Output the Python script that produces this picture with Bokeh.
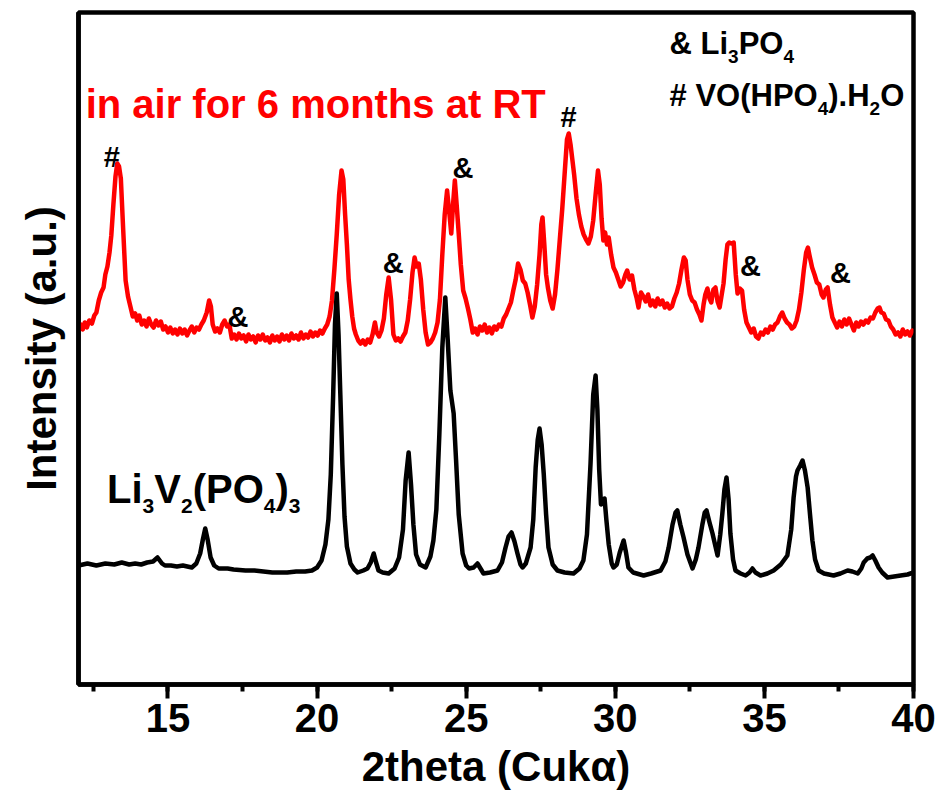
from bokeh.plotting import figure
from bokeh.models import Range1d, SingleIntervalTicker, FixedTicker, ColumnDataSource
from bokeh.core.properties import value
from bokeh.embed import file_html
from bokeh.resources import INLINE

# ---------------- data ----------------
# Li3V2(PO4)3 pattern (black)
theta_lvp = [12.0, 12.3, 12.6, 12.9, 13.2, 13.45, 13.7, 13.9, 14.1, 14.3, 14.5, 14.65, 14.8, 14.9,
             15.1, 15.3, 15.5, 15.8, 15.95, 16.08, 16.17, 16.25, 16.33, 16.43, 16.55, 16.7, 17.0,
             17.2, 17.6, 17.9, 18.2, 18.5, 18.71, 19.0, 19.3, 19.6, 19.83, 20.0, 20.15, 20.28, 20.38,
             20.46, 20.54, 20.6, 20.66, 20.72, 20.78, 20.85, 20.92, 21.0, 21.12, 21.25, 21.36, 21.55,
             21.69, 21.8, 21.9, 21.98, 22.06, 22.2, 22.4, 22.6, 22.75, 22.88, 22.97, 23.07, 23.15,
             23.23, 23.32, 23.45, 23.64, 23.8, 23.9, 24.0, 24.1, 24.2, 24.3, 24.38, 24.47, 24.58,
             24.66, 24.75, 24.88, 25.0, 25.1, 25.25, 25.38, 25.5, 25.58, 25.8, 26.05, 26.2, 26.32,
             26.42, 26.52, 26.62, 26.72, 26.82, 26.89, 27.0, 27.16, 27.25, 27.33, 27.4, 27.46, 27.53,
             27.6, 27.68, 27.76, 27.9, 28.06, 28.3, 28.6, 28.8, 28.93, 29.05, 29.17, 29.26, 29.34,
             29.4, 29.46, 29.52, 29.6, 29.64, 29.7, 29.78, 29.88, 29.94, 30.05, 30.15, 30.28, 30.36,
             30.44, 30.6, 30.95, 31.2, 31.52, 31.68, 31.79, 31.92, 32.02, 32.08, 32.18, 32.29, 32.42,
             32.59, 32.7, 32.79, 32.92, 33.0, 33.06, 33.16, 33.26, 33.36, 33.43, 33.52, 33.59, 33.66,
             33.73, 33.8, 33.86, 33.95, 34.03, 34.2, 34.37, 34.5, 34.6, 34.7, 34.87, 35.1, 35.31,
             35.55, 35.77, 35.9, 35.98, 36.06, 36.11, 36.2, 36.28, 36.36, 36.45, 36.53, 36.61, 36.7,
             36.82, 37.0, 37.32, 37.55, 37.79, 37.95, 38.13, 38.25, 38.33, 38.45, 38.55, 38.63, 38.72,
             38.83, 38.95, 39.13, 39.35, 39.57, 39.8, 40.0]
int_lvp = [119, 121, 119, 121, 120, 122, 120, 121, 120, 122, 123, 127, 121, 119,
           119, 118, 119, 117, 121, 131, 145, 156, 145, 127, 119, 116, 116,
           115, 114, 114, 113, 112, 112, 112, 113, 113, 114, 117, 124, 140, 165,
           210, 290, 360, 391, 350, 290, 220, 168, 138, 121, 115, 112, 114,
           116, 122, 131, 122, 114, 112, 111, 116, 127, 155, 204, 232, 200,
           160, 130, 120, 117, 128, 144, 175, 250, 337, 387, 345, 294, 271,
           225, 170, 131, 119, 116, 117, 121, 115, 111, 112, 114, 122, 137,
           148, 152, 143, 131, 120, 117, 121, 137, 165, 217, 245, 256, 240,
           211, 170, 137, 120, 114, 112, 111, 116, 124, 150, 221, 290, 309,
           275, 215, 180, 184, 186, 165, 140, 121, 117, 120, 132, 144, 132,
           117, 112, 109, 111, 114, 123, 137, 160, 172, 174, 160, 147, 130,
           116, 125, 137, 160, 172, 174, 162, 151, 138, 129, 150, 171, 195,
           207, 185, 151, 125, 114, 111, 109, 112, 116, 112, 109, 111, 114,
           120, 129, 155, 187, 208, 214, 219, 224, 214, 197, 170, 144, 125,
           114, 111, 109, 111, 114, 113, 111, 116, 122, 126, 127, 129, 124,
           117, 112, 107, 108, 109, 110, 112]

# after 6 months in air at RT (red)
theta_air = [12.0, 12.07, 12.14, 12.21, 12.28, 12.36, 12.45, 12.53, 12.6, 12.68, 12.76, 12.84, 12.9,
             12.97, 13.04, 13.1, 13.17, 13.24, 13.3, 13.36, 13.42, 13.5, 13.58, 13.66, 13.74, 13.82,
             13.9, 13.97, 14.04, 14.12, 14.2, 14.28, 14.36, 14.44, 14.52, 14.6, 14.68, 14.76, 14.84,
             14.92, 15.0, 15.08, 15.16, 15.24, 15.32, 15.4, 15.48, 15.56, 15.64, 15.72, 15.8, 15.88,
             15.96, 16.04, 16.12, 16.2, 16.3, 16.38, 16.44, 16.5, 16.58, 16.66, 16.74, 16.82, 16.9,
             16.98, 17.06, 17.14, 17.22, 17.3, 17.38, 17.46, 17.54, 17.62, 17.7, 17.78, 17.86, 17.94,
             18.02, 18.1, 18.18, 18.26, 18.34, 18.42, 18.5, 18.58, 18.66, 18.74, 18.82, 18.9, 18.98,
             19.06, 19.14, 19.22, 19.3, 19.38, 19.46, 19.54, 19.62, 19.7, 19.78, 19.86, 19.94, 20.02,
             20.1, 20.18, 20.26, 20.34, 20.42, 20.5, 20.58, 20.66, 20.74, 20.82, 20.88, 20.94, 21.0,
             21.06, 21.12, 21.18, 21.24, 21.3, 21.38, 21.46, 21.54, 21.62, 21.7, 21.78, 21.86, 21.94,
             22.0, 22.08, 22.16, 22.24, 22.32, 22.4, 22.48, 22.56, 22.64, 22.72, 22.8, 22.88, 22.96,
             23.04, 23.12, 23.2, 23.27, 23.34, 23.41, 23.48, 23.56, 23.64, 23.72, 23.8, 23.88, 23.96,
             24.04, 24.12, 24.2, 24.28, 24.36, 24.44, 24.5, 24.56, 24.62, 24.68, 24.75, 24.82, 24.9,
             24.98, 25.06, 25.14, 25.22, 25.3, 25.38, 25.46, 25.54, 25.62, 25.7, 25.78, 25.86, 25.94,
             26.02, 26.1, 26.18, 26.26, 26.34, 26.42, 26.5, 26.58, 26.66, 26.74, 26.82, 26.9, 26.98,
             27.06, 27.14, 27.22, 27.3, 27.38, 27.46, 27.52, 27.56, 27.62, 27.68, 27.74, 27.82, 27.9,
             27.98, 28.06, 28.14, 28.22, 28.3, 28.38, 28.44, 28.5, 28.56, 28.62, 28.7, 28.78, 28.86,
             28.94, 29.02, 29.1, 29.18, 29.26, 29.34, 29.42, 29.48, 29.54, 29.6, 29.66, 29.72, 29.78,
             29.86, 29.94, 30.02, 30.1, 30.18, 30.26, 30.34, 30.4, 30.48, 30.56, 30.64, 30.72, 30.78,
             30.86, 30.94, 31.02, 31.1, 31.18, 31.26, 31.34, 31.42, 31.5, 31.58, 31.66, 31.74, 31.82,
             31.9, 31.98, 32.06, 32.14, 32.22, 32.3, 32.36, 32.42, 32.5, 32.58, 32.66, 32.74, 32.82,
             32.89, 32.96, 33.02, 33.09, 33.16, 33.22, 33.29, 33.36, 33.43, 33.5, 33.57, 33.63, 33.7,
             33.76, 33.82, 33.9, 33.97, 34.04, 34.1, 34.18, 34.25, 34.32, 34.4, 34.48, 34.56, 34.64,
             34.72, 34.8, 34.88, 34.96, 35.04, 35.12, 35.2, 35.28, 35.36, 35.44, 35.52, 35.6, 35.68,
             35.76, 35.84, 35.92, 36.0, 36.08, 36.16, 36.24, 36.32, 36.4, 36.46, 36.52, 36.6, 36.68,
             36.76, 36.84, 36.92, 36.98, 37.06, 37.12, 37.2, 37.28, 37.36, 37.44, 37.52, 37.6, 37.68,
             37.76, 37.84, 37.92, 38.0, 38.08, 38.16, 38.24, 38.32, 38.4, 38.48, 38.56, 38.64, 38.72,
             38.8, 38.86, 38.92, 39.0, 39.08, 39.16, 39.24, 39.32, 39.4, 39.48, 39.56, 39.64, 39.72,
             39.8, 39.88, 39.96, 40.0]
int_air = [354, 360, 355, 362, 357, 364, 361, 369, 372, 384, 392, 397, 410,
           418, 432, 449, 480, 508, 521, 518, 506, 454, 404, 388, 378, 368,
           371, 364, 369, 360, 364, 358, 366, 360, 357, 364, 359, 363, 355,
           358, 352, 357, 351, 355, 350, 356, 351, 355, 349, 354, 358, 352,
           357, 355, 360, 364, 372, 384, 378, 360, 353, 356, 352, 360, 364,
           358, 360, 346, 350, 345, 351, 346, 349, 343, 350, 345, 348, 342,
           349, 345, 350, 344, 347, 342, 349, 344, 348, 343, 350, 345, 349,
           344, 351, 346, 349, 345, 352, 346, 350, 347, 353, 348, 352, 349,
           354, 351, 356, 360, 368, 384, 415, 450, 490, 514, 505, 470, 440,
           405, 385, 368, 356, 350, 344, 341, 344, 340, 345, 342, 350, 362,
           352, 348, 354, 366, 390, 407, 385, 350, 344, 346, 343, 348, 352,
           364, 385, 412, 427, 418, 421, 405, 375, 352, 340, 342, 346, 352,
           362, 385, 430, 470, 494, 470, 451, 480, 504, 480, 451, 420, 394,
           386, 376, 365, 352, 356, 350, 358, 354, 360, 352, 357, 351, 358,
           355, 360, 358, 366, 370, 376, 382, 394, 405, 421, 415, 404, 401,
           392, 380, 367, 378, 400, 430, 460, 467, 440, 410, 397, 384, 376,
           390, 415, 445, 475, 510, 545, 551, 540, 525, 510, 486, 470, 458,
           450, 445, 441, 448, 464, 490, 514, 500, 466, 444, 452, 440, 447,
           430, 417, 412, 405, 398, 402, 410, 414, 405, 409, 395, 386, 377,
           392, 388, 383, 390, 379, 384, 378, 386, 380, 384, 377, 381, 376,
           378, 386, 392, 401, 415, 427, 424, 405, 390, 384, 382, 375, 370,
           364, 380, 390, 396, 386, 382, 395, 397, 383, 377, 390, 401, 425,
           440, 442, 441, 442, 410, 391, 396, 394, 375, 362, 357, 352, 356,
           348, 346, 352, 350, 355, 352, 358, 355, 360, 362, 368, 372, 366,
           362, 360, 356, 358, 364, 375, 392, 414, 432, 437, 428, 417, 410,
           402, 400, 390, 387, 395, 397, 380, 367, 362, 357, 363, 358, 365,
           360, 366, 360, 354, 362, 358, 363, 360, 364, 362, 367, 366, 372,
           376, 377, 372, 371, 365, 364, 358, 355, 350, 352, 348, 355, 350,
           353, 349, 354, 352]

x_ticks_interval = 5
marker_text = ["#", "&", "&", "&", "#", "&", "&"]
marker_theta = [13.12, 17.35, 22.55, 24.89, 28.43, 34.53, 37.55]
marker_int = [528, 368, 422, 517, 568, 419, 412]

FONT = "Liberation Sans"
# Arial / Liberation Sans Bold advance widths (1/1000 em)
ADV = {"&": 722, " ": 278, "L": 611, "i": 278, "P": 667, "O": 778, "#": 556, "V": 667,
       "(": 333, ")": 333, "H": 722, ".": 278}
for d in "0123456789":
    ADV[d] = 556


def draw_formula(p, x, y, parts, size, sub_size, sub_drop, color="black"):
    txt, xo, yo, fs = [], [], [], []
    off = 0.0
    for s, sub in parts:
        f = sub_size if sub else size
        txt.append(s)
        xo.append(off)
        yo.append(sub_drop if sub else 0)
        fs.append(f"{f}px")
        off += sum(ADV[c] for c in s) / 1000.0 * f
    n = len(txt)
    src = ColumnDataSource(dict(x=[x] * n, y=[y] * n, text=txt, xo=xo, yo=yo, fs=fs))
    p.text(x="x", y="y", text="text", x_offset="xo", y_offset="yo", text_font_size="fs",
           source=src, text_font=value(FONT), text_font_style="bold", text_align="left",
           text_baseline="alphabetic", text_color=color)


p = figure(width=938, height=807, output_backend="svg", toolbar_location=None,
           x_range=Range1d(12, 40), y_range=Range1d(0, 672),
           min_border_left=78, min_border_right=25, min_border_top=12, min_border_bottom=123)
p.background_fill_color = "white"
p.border_fill_color = "white"
p.grid.visible = False
p.outline_line_color = "black"
p.outline_line_width = 4.5

# curves
p.line(theta_air, int_air, line_color="#ff0000", line_width=4.5, line_join="round")
p.line(theta_lvp, int_lvp, line_color="black", line_width=4.5, line_join="round")

# x axis
xa = p.xaxis[0]
xa.ticker = SingleIntervalTicker(interval=x_ticks_interval, num_minor_ticks=2)
xa.axis_line_width = 4.5
xa.major_tick_out = 14
xa.major_tick_in = 0
xa.minor_tick_out = 7
xa.minor_tick_in = 0
xa.major_tick_line_width = 4
xa.minor_tick_line_width = 4
xa.major_label_text_font = FONT
xa.major_label_text_font_style = "bold"
xa.major_label_text_font_size = "40px"
xa.major_label_text_color = "black"
xa.major_label_standoff = 5
xa.axis_label = "2theta (Cukα)"
xa.axis_label_text_font = FONT
xa.axis_label_text_font_style = "bold"
xa.axis_label_text_font_size = "42px"
xa.axis_label_text_color = "black"
xa.axis_label_standoff = 8

# y axis
ya = p.yaxis[0]
ya.ticker = FixedTicker(ticks=[])
ya.axis_line_width = 4.5
ya.major_tick_line_color = None
ya.minor_tick_line_color = None
ya.major_label_text_font_size = "0px"
ya.axis_label = "Intensity (a.u.)"
ya.axis_label_text_font = FONT
ya.axis_label_text_font_style = "bold"
ya.axis_label_text_font_size = "42px"
ya.axis_label_text_color = "black"
ya.axis_label_standoff = 14

# peak markers
p.text(x=marker_theta, y=marker_int, text=marker_text, text_font=value(FONT),
       text_font_style="bold", text_font_size=value("29px"), text_align="center",
       text_baseline="middle", text_color="black")

# red sample label
p.text(x=[12.24], y=[581], text=["in air for 6 months at RT"], text_font=value(FONT),
       text_font_style="bold", text_font_size=value("40px"), text_align="left",
       text_baseline="alphabetic", text_color="#ff0000")

# legend-like phase notes
draw_formula(p, 31.82, 641, [("& Li", False), ("3", True), ("PO", False), ("4", True)],
             31, 19, 13)
draw_formula(p, 31.82, 589, [("# VO(HPO", False), ("4", True), (").H", False), ("2", True),
                             ("O", False)], 31, 19, 13)

# black sample label
draw_formula(p, 12.957, 196, [("Li", False), ("3", True), ("V", False), ("2", True),
                              ("(PO", False), ("4", True), (")", False), ("3", True)],
             40, 21, 17)

html = file_html(p, INLINE)
open("out.html", "w").write(html)
